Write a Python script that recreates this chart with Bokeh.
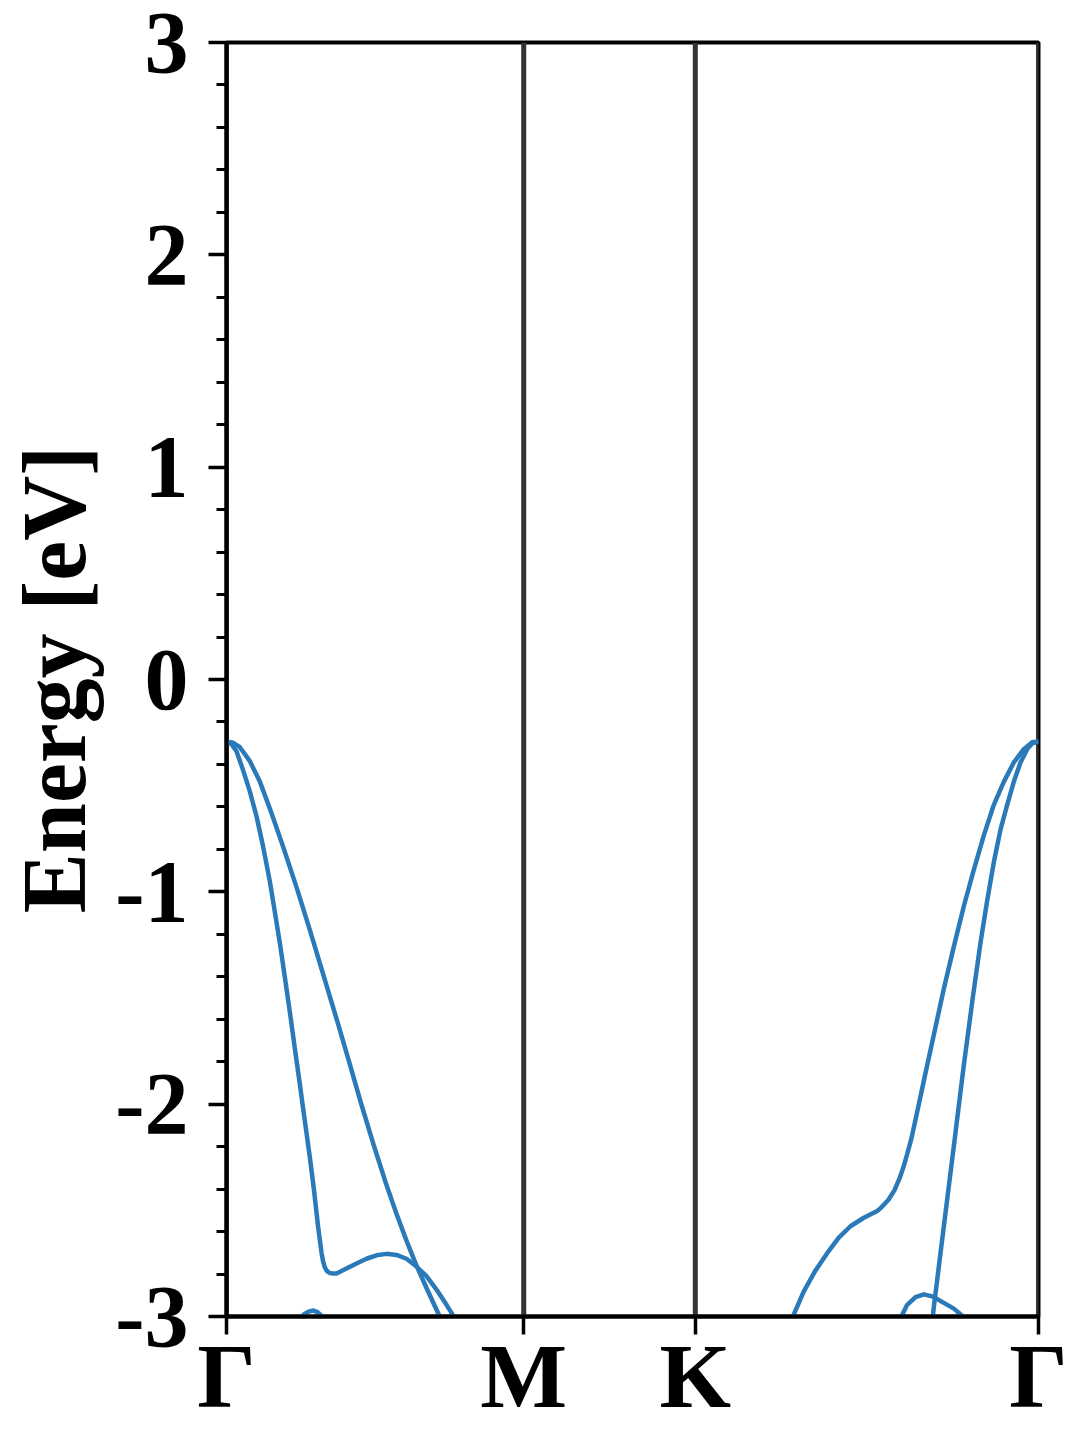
import numpy as np
from bokeh.plotting import figure
from bokeh.models import FixedTicker, Range1d
from bokeh.embed import file_html
from bokeh.resources import INLINE

# High-symmetry path
kpath_labels = ["Γ", "M", "K", "Γ"]
kpath_positions = [0.0, 0.5774, 0.9107, 1.5774]
energy_ticks = [-3, -2, -1, 0, 1, 2, 3]
energy_tick_labels = ["-3", "-2", "-1", "0", "1", "2", "3"]
energy_minor_step = 0.2
y_label = "Energy [eV]"

# Bands (k along path, energy in eV)
bandA_k = [0.0, 0.0097, 0.0194, 0.0324, 0.0453, 0.0583, 0.0712, 0.0842, 0.0939, 0.1036,
           0.1133, 0.1230, 0.1327, 0.1425, 0.1522, 0.1619, 0.1697, 0.1781, 0.1846, 0.1878,
           0.1910, 0.1943, 0.1975, 0.2007, 0.2070, 0.2137, 0.2331, 0.2525, 0.2720, 0.2914,
           0.3108, 0.3302, 0.3497, 0.3691, 0.3885, 0.4079, 0.4274, 0.4435, 0.4533]
bandA_e = [-0.292, -0.305, -0.338, -0.428, -0.527, -0.644, -0.788, -0.951, -1.095, -1.240,
           -1.402, -1.565, -1.736, -1.907, -2.079, -2.250, -2.400, -2.580, -2.700, -2.742,
           -2.768, -2.783, -2.791, -2.795, -2.798, -2.797, -2.774, -2.750, -2.728, -2.712,
           -2.705, -2.710, -2.728, -2.765, -2.810, -2.873, -2.945, -3.008, -3.044]

bandB_k = [0.0, 0.013, 0.026, 0.045, 0.065, 0.087, 0.110, 0.136, 0.162, 0.188,
           0.214, 0.237, 0.260, 0.285, 0.310, 0.330, 0.350, 0.369, 0.389, 0.408, 0.418]
bandB_e = [-0.292, -0.298, -0.319, -0.383, -0.482, -0.626, -0.788, -0.978, -1.180, -1.390,
           -1.600, -1.790, -1.985, -2.185, -2.375, -2.515, -2.645, -2.760, -2.868, -2.968, -3.02]

bandL_k = [0.1399, 0.1496, 0.1593, 0.1690, 0.1768, 0.1845, 0.1904]
bandL_e = [-3.03, -2.991, -2.977, -2.972, -2.979, -2.996, -3.02]

bandC_k = [1.0989, 1.1215, 1.1442, 1.1669, 1.1895, 1.2122, 1.2381, 1.2640, 1.2705, 1.2860,
           1.2977, 1.3074, 1.3152, 1.3229, 1.3307, 1.3423, 1.3579, 1.3741, 1.3935, 1.4129,
           1.4323, 1.4517, 1.4712, 1.4906, 1.5100, 1.5294, 1.5488, 1.5650, 1.5774]
bandC_e = [-3.008, -2.882, -2.783, -2.702, -2.629, -2.575, -2.535, -2.503, -2.490, -2.450,
           -2.405, -2.350, -2.295, -2.230, -2.160, -2.030, -1.853, -1.673, -1.456, -1.258,
           -1.068, -0.897, -0.734, -0.590, -0.482, -0.391, -0.328, -0.296, -0.292]

bandD_k = [1.3709, 1.3741, 1.3870, 1.4000, 1.4162, 1.4323, 1.4486, 1.4647, 1.4777, 1.4906,
           1.5036, 1.5166, 1.5294, 1.5424, 1.5554, 1.5650, 1.5774]
bandD_e = [-3.026, -2.954, -2.702, -2.449, -2.133, -1.817, -1.519, -1.240, -1.041, -0.861,
           -0.707, -0.590, -0.482, -0.391, -0.328, -0.301, -0.292]

bandR_k = [1.3093, 1.3223, 1.3385, 1.3546, 1.3709, 1.3935, 1.4129, 1.4292, 1.4389]
bandR_e = [-3.008, -2.945, -2.909, -2.896, -2.905, -2.936, -2.963, -2.996, -3.017]

bands = [(bandA_k, bandA_e), (bandB_k, bandB_e), (bandL_k, bandL_e),
         (bandC_k, bandC_e), (bandD_k, bandD_e), (bandR_k, bandR_e)]

BLUE = "#2a7ab9"
GRAY = "#333333"
FONT = "Liberation Serif"

p = figure(frame_width=812, frame_height=1274,
           x_range=Range1d(kpath_positions[0], kpath_positions[-1]),
           y_range=Range1d(energy_ticks[0], energy_ticks[-1]),
           output_backend="svg", toolbar_location=None,
           min_border_left=226, min_border_top=42, min_border_right=42,
           min_border_bottom=100)

p.xgrid.visible = False
p.ygrid.visible = False
p.background_fill_color = "white"
p.border_fill_color = "white"
p.outline_line_color = "black"
p.outline_line_width = 4

# vertical lines at high-symmetry points
p.segment(x0=kpath_positions, y0=[energy_ticks[0]] * len(kpath_positions),
          x1=kpath_positions, y1=[energy_ticks[-1]] * len(kpath_positions),
          line_color=GRAY, line_width=5)

for k, e in bands:
    p.line(k, e, line_color=BLUE, line_width=4.5)

# y axis
minor = [round(v, 2) for v in np.arange(energy_ticks[0], energy_ticks[-1] + 1e-9, energy_minor_step)]
p.yaxis.ticker = FixedTicker(ticks=energy_ticks, minor_ticks=minor)
p.yaxis.major_label_overrides = {t: s for t, s in zip(energy_ticks, energy_tick_labels)}
p.yaxis.axis_label = y_label
p.yaxis.axis_label_text_font = FONT
p.yaxis.axis_label_text_font_style = "bold"
p.yaxis.axis_label_text_font_size = "90px"
p.yaxis.axis_label_text_line_height = 1.0
p.yaxis.axis_label_text_color = "black"
p.yaxis.axis_label_standoff = 8
p.yaxis.major_label_text_font = FONT
p.yaxis.major_label_text_font_style = "bold"
p.yaxis.major_label_text_font_size = "88px"
p.yaxis.major_label_text_line_height = 1.0
p.yaxis.major_label_text_color = "black"
p.yaxis.major_label_standoff = 20
p.yaxis.major_tick_out = 18
p.yaxis.major_tick_in = 0
p.yaxis.minor_tick_out = 10
p.yaxis.minor_tick_in = 0
p.yaxis.major_tick_line_width = 3.5
p.yaxis.minor_tick_line_width = 3
p.yaxis.axis_line_width = 4
p.yaxis.major_tick_line_color = "black"
p.yaxis.minor_tick_line_color = "black"

# x axis
p.xaxis.ticker = FixedTicker(ticks=kpath_positions, minor_ticks=[])
p.xaxis.major_label_overrides = {pos: lab for pos, lab in zip(kpath_positions, kpath_labels)}
p.xaxis.major_label_text_font = FONT
p.xaxis.major_label_text_font_style = "bold"
p.xaxis.major_label_text_font_size = "92px"
p.xaxis.major_label_text_line_height = 1.0
p.xaxis.major_label_text_color = "black"
p.xaxis.major_label_standoff = -10
p.xaxis.major_tick_out = 18
p.xaxis.major_tick_in = 0
p.xaxis.major_tick_line_width = 3.5
p.xaxis.axis_line_width = 4

open("out.html", "w").write(file_html(p, INLINE))
